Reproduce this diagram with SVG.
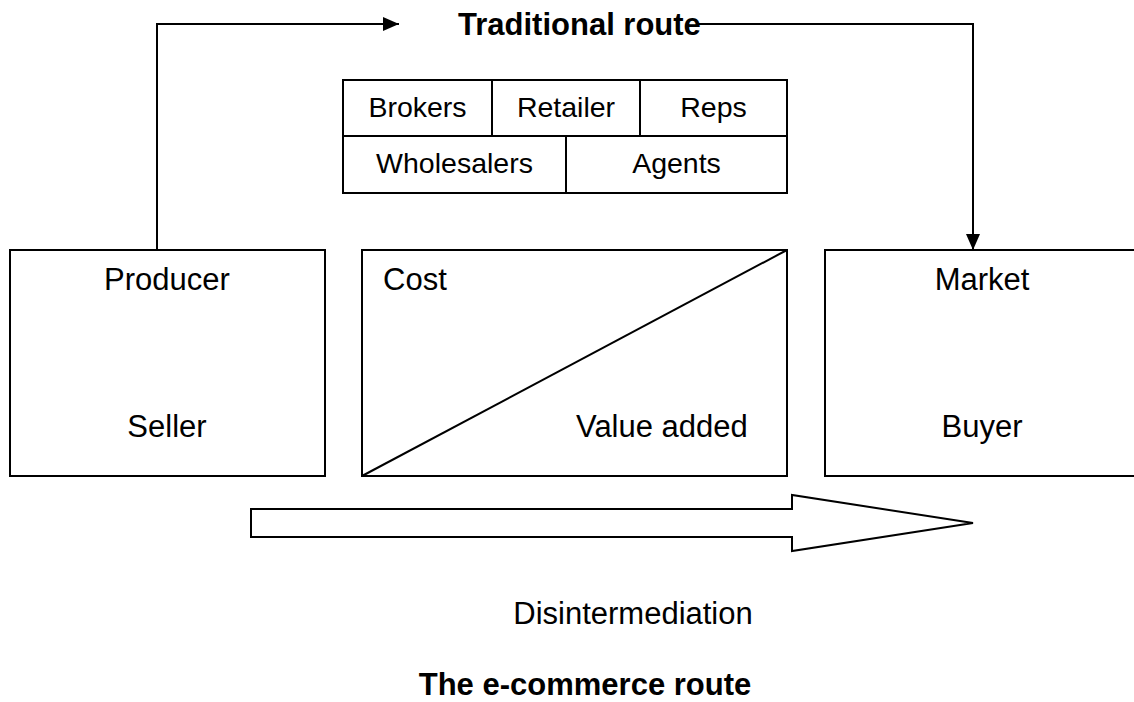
<svg xmlns="http://www.w3.org/2000/svg" width="1134" height="702" viewBox="0 0 1134 702">
<defs>
<marker id="ah" markerWidth="16" markerHeight="14" refX="16" refY="7" orient="auto" markerUnits="userSpaceOnUse">
<path d="M0,0 L16,7 L0,14 Z" fill="#000"/>
</marker>
<style>
.box{fill:#fff;stroke:#000;stroke-width:2}
.ln{fill:none;stroke:#000;stroke-width:2}
.t{font-family:"Liberation Sans",Arial,sans-serif;font-size:31px;fill:#000}
.ts{font-family:"Liberation Sans",Arial,sans-serif;font-size:28.5px;fill:#000}
.tb{font-family:"Liberation Sans",Arial,sans-serif;font-size:31px;font-weight:bold;fill:#000}
.m{text-anchor:middle}
</style>
</defs>
<rect width="1134" height="702" fill="#fff"/>
<g id="connectors">
<path class="ln" d="M157,250 V24 H399" marker-end="url(#ah)"/>
<path class="ln" d="M697,24 H973 V250" marker-end="url(#ah)"/>
</g>
<text id="title-traditional" class="tb" x="458" y="35">Traditional route</text>
<g id="intermediaries">
<rect class="box" x="343" y="80" width="444" height="113"/>
<line class="ln" x1="343" y1="136" x2="787" y2="136"/>
<line class="ln" x1="492" y1="80" x2="492" y2="136"/>
<line class="ln" x1="640" y1="80" x2="640" y2="136"/>
<line class="ln" x1="566" y1="136" x2="566" y2="193"/>
<text class="ts m" x="417.5" y="117">Brokers</text>
<text class="ts m" x="566" y="117">Retailer</text>
<text class="ts m" x="713.5" y="117">Reps</text>
<text class="ts m" x="454.5" y="173">Wholesalers</text>
<text class="ts m" x="676.5" y="173">Agents</text>
</g>
<g id="producer">
<rect class="box" x="10" y="250" width="315" height="226"/>
<text class="t m" x="167" y="290">Producer</text>
<text class="t m" x="167" y="437">Seller</text>
</g>
<g id="cost">
<rect class="box" x="362" y="250" width="425" height="226"/>
<line class="ln" x1="362" y1="476" x2="787" y2="250"/>
<text class="t" x="383" y="290">Cost</text>
<text class="t" x="576" y="437">Value added</text>
</g>
<g id="market">
<rect class="box" x="825" y="250" width="320" height="226"/>
<text class="t m" x="982" y="290">Market</text>
<text class="t m" x="982" y="437">Buyer</text>
</g>
<g id="disintermediation">
<path class="box" d="M251,509 H792 V495 L973,523 L792,551 V537 H251 Z"/>
<text class="t m" x="633" y="624">Disintermediation</text>
</g>
<text id="title-ecommerce" class="tb m" x="585" y="695">The e-commerce route</text>
</svg>
